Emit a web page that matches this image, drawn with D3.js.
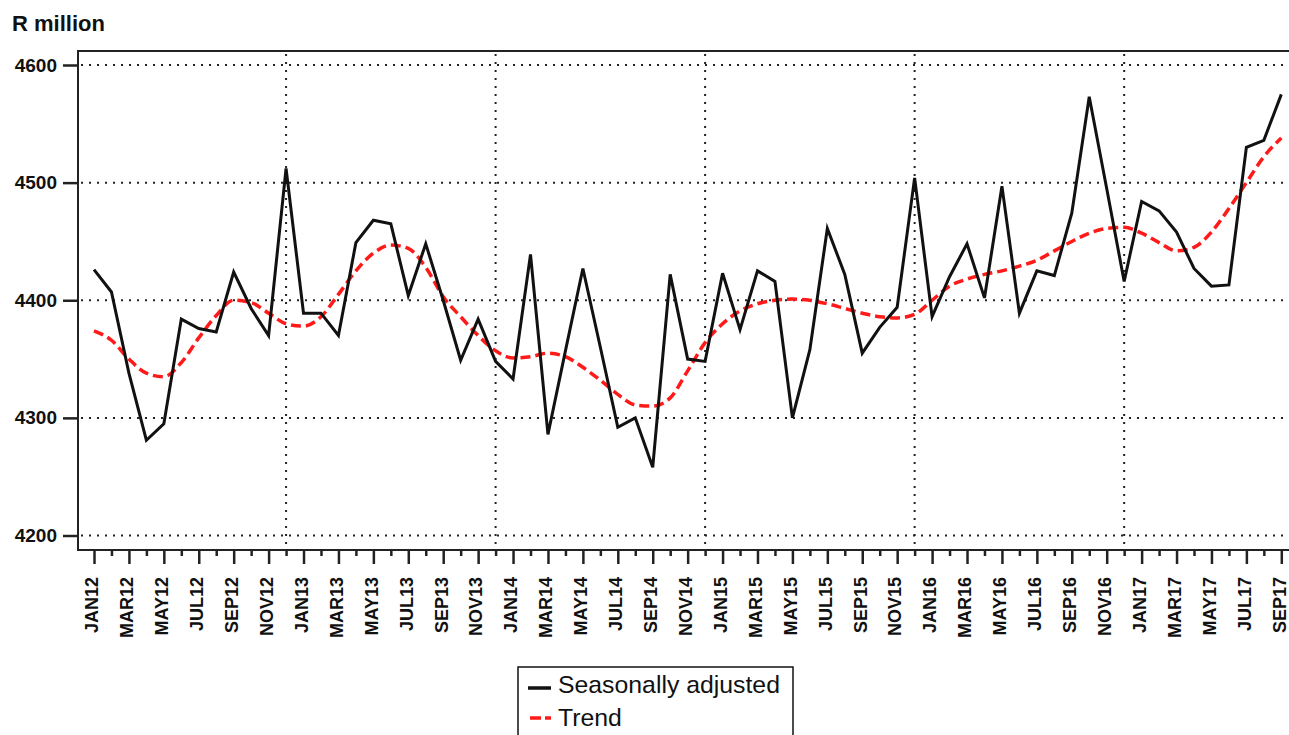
<!DOCTYPE html>
<html>
<head>
<meta charset="utf-8">
<script src="https://cdn.jsdelivr.net/npm/d3@7"></script>
<style>
  html, body { margin: 0; padding: 0; background: #fff; }
  svg { display: block; font-family: 'Liberation Sans', Arial, sans-serif; }
</style>
</head>
<body>
<div id="chart"></div>
<script>
const WIDTH = 1289;
const HEIGHT = 735;
const MARGIN = { left: 78, top: 51, bottom: 550, right: 1296 };

const PERIODS = [
  'JAN12','FEB12','MAR12','APR12','MAY12','JUN12','JUL12','AUG12','SEP12','OCT12','NOV12','DEC12',
  'JAN13','FEB13','MAR13','APR13','MAY13','JUN13','JUL13','AUG13','SEP13','OCT13','NOV13','DEC13',
  'JAN14','FEB14','MAR14','APR14','MAY14','JUN14','JUL14','AUG14','SEP14','OCT14','NOV14','DEC14',
  'JAN15','FEB15','MAR15','APR15','MAY15','JUN15','JUL15','AUG15','SEP15','OCT15','NOV15','DEC15',
  'JAN16','FEB16','MAR16','APR16','MAY16','JUN16','JUL16','AUG16','SEP16','OCT16','NOV16','DEC16',
  'JAN17','FEB17','MAR17','APR17','MAY17','JUN17','JUL17','AUG17','SEP17'
];

const SEASONALLY_ADJUSTED = [
  4426, 4407, 4338, 4281, 4295, 4384, 4376, 4373, 4424, 4393, 4370, 4512,
  4389, 4389, 4370, 4449, 4468, 4465, 4404, 4448, 4400, 4349, 4384, 4348,
  4333, 4439, 4286, 4357, 4427, 4360, 4292, 4300, 4258, 4422, 4350, 4348,
  4423, 4375, 4425, 4416, 4300, 4358, 4461, 4422, 4355, 4377, 4394, 4504,
  4386, 4420, 4448, 4402, 4497, 4389, 4425, 4421, 4474, 4573, 4495, 4416,
  4484, 4476, 4458, 4427, 4412, 4413, 4530, 4536, 4575
];

const TREND = [
  4374, 4366, 4350, 4338, 4335, 4347, 4368, 4387, 4400, 4398, 4389, 4380,
  4378, 4386, 4405, 4425, 4440, 4447, 4444, 4428, 4403, 4386, 4370, 4357,
  4351, 4352, 4355, 4352, 4343, 4332, 4320, 4311, 4310, 4317, 4340, 4364,
  4380, 4391, 4397, 4400, 4401, 4400, 4397, 4393, 4389, 4386, 4385, 4388,
  4400, 4412, 4418, 4422, 4425, 4429, 4434, 4442, 4450, 4457, 4461, 4462,
  4457, 4449, 4442, 4445, 4458, 4478, 4500, 4522, 4538
];

const Y_TICKS = [4200, 4300, 4400, 4500, 4600];
// vertical grid lines sit on the December of each year
const GRID_PERIODS = ['DEC12', 'DEC13', 'DEC14', 'DEC15', 'DEC16'];

const svg = d3.select('#chart')
  .append('svg')
  .attr('width', WIDTH)
  .attr('height', HEIGHT);

const x = d3.scalePoint()
  .domain(PERIODS)
  .range([94, 1281.3]);

const y = d3.scaleLinear()
  .domain([4200, 4600])
  .range([535.5, 65]);

// grid
const grid = svg.append('g')
  .attr('stroke', '#222')
  .attr('stroke-width', 2)
  .attr('stroke-dasharray', '2,6');

grid.selectAll('line.h')
  .data(Y_TICKS)
  .join('line')
  .attr('class', 'h')
  .attr('x1', MARGIN.left + 3)
  .attr('x2', WIDTH)
  .attr('y1', d => y(d))
  .attr('y2', d => y(d));

grid.selectAll('line.v')
  .data(GRID_PERIODS)
  .join('line')
  .attr('class', 'v')
  .attr('x1', d => x(d))
  .attr('x2', d => x(d))
  .attr('y1', MARGIN.top + 3)
  .attr('y2', MARGIN.bottom - 2);

// frame
svg.append('path')
  .attr('fill', 'none')
  .attr('stroke', '#222')
  .attr('stroke-width', 2)
  .attr('d', `M${MARGIN.right},${MARGIN.top}H${MARGIN.left}V${MARGIN.bottom}H${MARGIN.right}`);

// y axis
const yAxis = svg.append('g')
  .attr('transform', `translate(${MARGIN.left},0)`)
  .call(d3.axisLeft(y).tickValues(Y_TICKS).tickSize(15).tickPadding(6).tickFormat(d3.format('d')));
yAxis.select('.domain').remove();
yAxis.selectAll('line').attr('stroke', '#222').attr('stroke-width', 2.5);
yAxis.selectAll('text')
  .attr('fill', '#111')
  .style('font-size', '19px')
  .style('font-weight', 'bold');

// x axis
const xAxis = svg.append('g')
  .attr('transform', `translate(0,${MARGIN.bottom})`)
  .call(d3.axisBottom(x).tickSize(14).tickFormat((d, i) => i % 2 === 0 ? d : ''));
xAxis.select('.domain').remove();
xAxis.selectAll('.tick line')
  .attr('stroke', '#222')
  .attr('stroke-width', 2.5)
  .attr('y2', (d, i) => i % 2 === 0 ? 14 : 6);
xAxis.selectAll('.tick text')
  .attr('fill', '#111')
  .attr('transform', 'rotate(-90)')
  .attr('x', -27)
  .attr('y', -2.5)
  .attr('dy', '0.35em')
  .style('text-anchor', 'end')
  .style('font-size', '18px')
  .style('font-weight', 'bold');

// series
const trendLine = d3.line()
  .curve(d3.curveMonotoneX)
  .x((d, i) => x(PERIODS[i]))
  .y(d => y(d));

const saLine = d3.line()
  .x((d, i) => x(PERIODS[i]))
  .y(d => y(d));

svg.append('path')
  .datum(TREND)
  .attr('fill', 'none')
  .attr('stroke', '#ff1a1a')
  .attr('stroke-width', 3.5)
  .attr('stroke-dasharray', '10,5')
  .attr('d', trendLine);

svg.append('path')
  .datum(SEASONALLY_ADJUSTED)
  .attr('fill', 'none')
  .attr('stroke', '#111')
  .attr('stroke-width', 3)
  .attr('stroke-linejoin', 'miter')
  .attr('d', saLine);

// title
svg.append('text')
  .attr('x', 12)
  .attr('y', 31)
  .attr('fill', '#111')
  .style('font-size', '22px')
  .style('font-weight', 'bold')
  .text('R million');

// legend
const legend = svg.append('g').attr('transform', 'translate(518,667)');
legend.append('rect')
  .attr('width', 275)
  .attr('height', 80)
  .attr('fill', '#fff')
  .attr('stroke', '#111')
  .attr('stroke-width', 1.5);

legend.append('line')
  .attr('x1', 10).attr('x2', 33)
  .attr('y1', 21).attr('y2', 21)
  .attr('stroke', '#111')
  .attr('stroke-width', 3.5);
legend.append('line')
  .attr('x1', 12).attr('x2', 33)
  .attr('y1', 51).attr('y2', 51)
  .attr('stroke', '#ff1a1a')
  .attr('stroke-width', 3.5)
  .attr('stroke-dasharray', '11,4');

legend.append('text')
  .attr('x', 40)
  .attr('y', 26)
  .attr('fill', '#111')
  .style('font-size', '24.8px')
  .text('Seasonally adjusted');
legend.append('text')
  .attr('x', 40)
  .attr('y', 59)
  .attr('fill', '#111')
  .style('font-size', '24.8px')
  .text('Trend');
</script>
</body>
</html>
